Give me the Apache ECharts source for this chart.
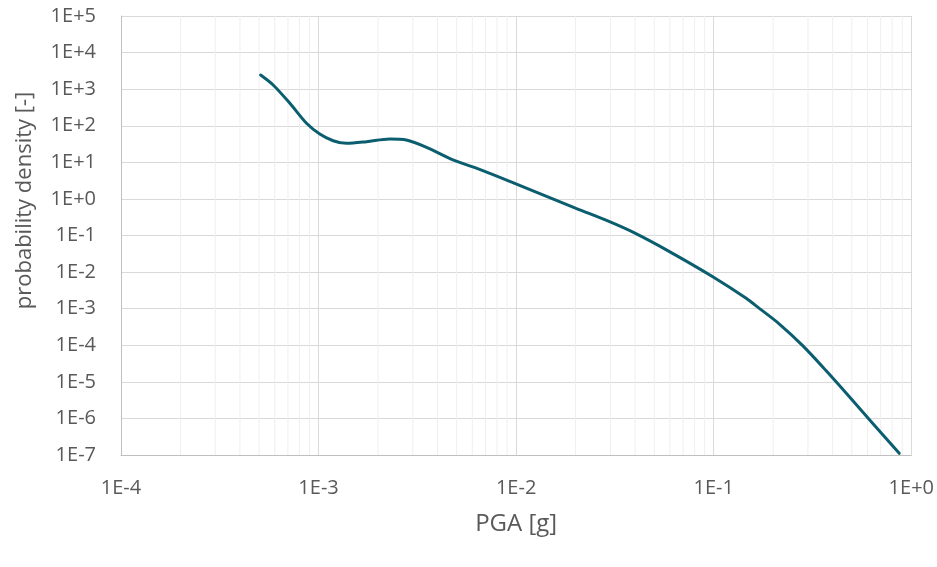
<!DOCTYPE html>
<html>
<head>
<meta charset="utf-8">
<script src="https://cdn.jsdelivr.net/npm/echarts@6/dist/echarts.min.js"></script>
<style>
html,body{margin:0;padding:0;background:#fff;}
#chart{width:937px;height:567px;}
</style>
</head>
<body>
<div id="chart"></div>
<script>
// PGA [g] values (x)
var pga = [5.09e-4, 5.89e-4, 7.16e-4, 8.69e-4, 1.014e-3, 1.185e-3, 1.384e-3, 1.748e-3, 2.29e-3, 2.78e-3,
           3.52e-3, 4.79e-3, 6.53e-3, 9.83e-3, 0.0201, 0.0297, 0.0397, 0.0597, 0.0989, 0.146,
           0.170, 0.215, 0.282, 0.370, 0.486, 0.637, 0.869];
// probability density [-] values (y)
var density = [2438, 1300, 410, 117, 59.4, 39, 33.1, 36.6, 43.4, 40.7,
               25.7, 11.6, 6.44, 2.67, 0.553, 0.238, 0.1175, 0.0363, 0.00746, 0.00192,
               1.02e-3, 3.80e-4, 9.77e-5, 2.04e-5, 3.92e-6, 7.35e-7, 1.11e-7];
// axis ranges
var xRange = [1e-4, 1];
var yRange = [1e-7, 1e5];
var xTitle = 'PGA [g]';
var yTitle = 'probability density [-]';

// minor (2..9) vertical gridline positions per decade
var minorGridX = [];
for (var e = -4; e < 0; e++) {
  for (var k = 2; k <= 9; k++) minorGridX.push(k * Math.pow(10, e));
}

function sciLabel(v) {
  var ex = Math.round(Math.log10(v));
  return '1E' + (ex >= 0 ? '+' : '') + ex;
}

var seriesData = pga.map(function (x, i) { return [x, density[i]]; });
var minorData = [];
minorGridX.forEach(function (v) {
  minorData.push([v, yRange[0]]);
  minorData.push([v, yRange[1]]);
  minorData.push([v, '-']);
});

var textColor = '#595959';
var fontFamily = "'Open Sans', 'Noto Sans', sans-serif";

var chart = echarts.init(document.getElementById('chart'), null, {renderer: 'canvas'});
chart.setOption({
  animation: false,
  backgroundColor: '#ffffff',
  grid: {left: 121, right: 25, top: 16, bottom: 112, containLabel: false},
  xAxis: {
    type: 'log', logBase: 10, min: xRange[0], max: xRange[1], splitNumber: 4,
    name: xTitle, nameLocation: 'middle', nameGap: 57,
    nameTextStyle: {color: textColor, fontSize: 24, fontFamily: fontFamily},
    axisLine: {show: true, lineStyle: {color: '#bfbfbf', width: 1}},
    axisTick: {show: false},
    axisLabel: {color: textColor, fontSize: 20, fontFamily: fontFamily, margin: 23, formatter: sciLabel},
    splitLine: {show: true, lineStyle: {color: '#d9d9d9', width: 1}}
  },
  yAxis: {
    type: 'log', logBase: 10, min: yRange[0], max: yRange[1], interval: 1,
    name: yTitle, nameLocation: 'middle', nameGap: 85, nameRotate: 90,
    nameTextStyle: {color: textColor, fontSize: 22, fontFamily: fontFamily, padding: [0, 0, 0, 70]},
    axisLine: {show: true, lineStyle: {color: '#bfbfbf', width: 1}},
    axisTick: {show: false},
    axisLabel: {color: textColor, fontSize: 20, fontFamily: fontFamily, margin: 25, formatter: sciLabel},
    splitLine: {show: true, lineStyle: {color: '#d9d9d9', width: 1}}
  },
  series: [
    {
      type: 'line', data: minorData, z: 1, silent: true,
      showSymbol: false, symbol: 'none', connectNulls: false,
      lineStyle: {color: '#efefef', width: 1}
    },
    {
      type: 'line', data: seriesData, z: 5,
      smooth: 0.3, showSymbol: false, symbol: 'none',
      lineStyle: {color: '#0b5e6f', width: 3, cap: 'round'}
    }
  ]
});
</script>
</body>
</html>
